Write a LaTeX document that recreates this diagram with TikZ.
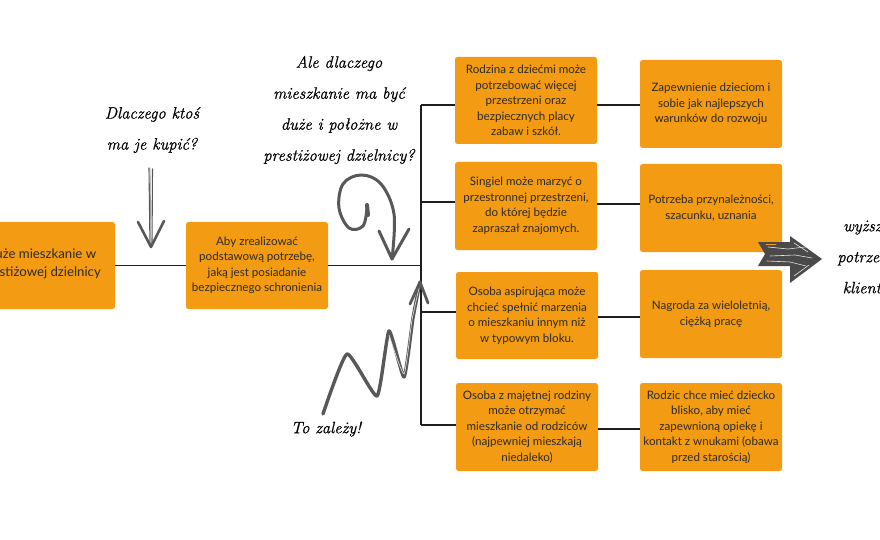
\documentclass[tikz,border=0pt]{standalone}
\usepackage{fontspec}
\setmainfont{Lato}
\newfontfamily\handfont{Latin Modern Roman}[ItalicFeatures={FakeBold=0.7}]
\usetikzlibrary{calc}
\definecolor{boxorange}{HTML}{F29B13}
\definecolor{txt}{HTML}{2E2A25}
\definecolor{ink}{HTML}{1E1E1E}
\definecolor{pencil}{HTML}{585858}
\definecolor{blockgray}{HTML}{4A4A4A}
\begin{document}
\begin{tikzpicture}[x=1pt,y=-1pt,
  box/.style={fill=boxorange, rounded corners=2.5pt, minimum width=142pt, minimum height=87pt,
    align=center, inner sep=0pt, text=txt, font=\fontsize{11.6}{15.5}\selectfont},
  boxtext/.style={align=center, inner sep=0pt, text=txt, font=\fontsize{13.2}{18}\selectfont},
  conn/.style={draw=ink, line width=1.8pt},
  hand/.style={font=\handfont\itshape\fontsize{16.5}{31}\selectfont, align=center, text=black, inner sep=0pt},
  pen/.style={draw=pencil, line width=2.6pt, line cap=round, line join=round},
  chalk/.style={draw=white!80!gray, line width=0.6pt, line cap=round}]
\useasboundingbox (0,0) rectangle (880,540);
\clip (0,0) rectangle (880,540);
\fill[white] (0,0) rectangle (880,540);

% boxes
\node[box] (b1) at (44,265.5) {};
\node[boxtext, anchor=east] (b1t) at (101,264) {Duże mieszkanie w\\prestiżowej dzielnicy};
\node[box] (b2) at (257,265.5) {Aby zrealizować\\podstawową potrzebę,\\jaką jest posiadanie\\bezpiecznego schronienia};
\node[box] (a1) at (526,100.5) {Rodzina z dziećmi może\\potrzebować więcej\\przestrzeni oraz\\bezpiecznych placy\\zabaw i szkół.};
\node[box, minimum height=88pt] (a2) at (711,104) {Zapewnienie dzieciom i\\sobie jak najlepszych\\warunków do rozwoju};
\node[box, minimum height=88pt] (c1b) at (526,206) {Singiel może marzyć o\\przestronnej przestrzeni,\\do której będzie\\zapraszał znajomych.};
\node[box, minimum height=88pt] (c2b) at (711,208) {Potrzeba przynależności,\\szacunku, uznania};
\node[box] (d1) at (527,315.5) {Osoba aspirująca może\\chcieć spełnić marzenia\\o mieszkaniu innym niż\\w typowym bloku.};
\node[box, minimum height=88pt] (d2) at (711,314) {Nagroda za wieloletnią,\\ciężką pracę};
\node[box, minimum height=88pt] (e1) at (527,427) {Osoba z majętnej rodziny\\może otrzymać\\mieszkanie od rodziców\\(najpewniej mieszkają\\niedaleko)};
\node[box, minimum height=88pt] (e2) at (711,427) {Rodzic chce mieć dziecko\\blisko, aby mieć\\zapewnioną opiekę i\\kontakt z wnukami (obawa\\przed starością)};

% trunk coordinates
\coordinate (ta) at (421,105);
\coordinate (tb) at (421,202);
\coordinate (tc) at (421,312);
\coordinate (td) at (421,425);
\coordinate (yb) at (0,204);
\coordinate (yc) at (0,317);
\coordinate (yd) at (0,429);

% connectors
\draw[conn] (b1.east) -- (b2.west);
\draw[conn] (b2.east) -- (b2.east -| ta);
\draw[conn] (ta) -- (td);
\draw[conn] (ta) -- (ta -| a1.west);
\draw[conn] (tb) -- (tb -| c1b.west);
\draw[conn] (tc) -- (tc -| d1.west);
\draw[conn] (td) -- (td -| e1.west);
\draw[conn] (a1.east |- ta) -- (a2.west |- ta);
\draw[conn] (c1b.east |- yb) -- (c2b.west |- yb);
\draw[conn] (d1.east |- yc) -- (d2.west |- yc);
\draw[conn] (e1.east |- yd) -- (e2.west |- yd);

% handwritten notes
\node[hand] (q1) at (152,130) {Dlaczego ktoś\\ma je kupić?};
\node[hand] (q2) at (339,110) {Ale dlaczego\\mieszkanie ma być\\duże i położne w\\prestiżowej dzielnicy?};
\node[hand] (q3) at (326,429) {To zależy!};
\node[hand] (q4) at (866,257) {wyższe\\potrzeby\\klienta};

% straight pencil arrow
\coordinate (p1s) at (150,168);
\coordinate (p1e) at (151,247);
\draw[pen, line width=1.1pt] (149,168) -- (150,246);
\draw[pen, line width=1.1pt] (152.5,169) -- (152,246);
\draw[pen, line width=0.8pt, draw=pencil!60] (p1s) -- (p1e);
\draw[pen, line width=2.6pt] (138,222) -- (p1e) -- (164,221);

% curly pencil arrow
\coordinate (p2e) at (392,259);
\draw[pen, line width=3pt] plot[smooth, tension=0.6] coordinates {(367,208) (363,226) (349,228) (339,208) (343,184) (361,175) (381,184) (394,214) (p2e)};
\draw[pen, line width=4pt] (367,205) -- (368,215);
\draw[pen, line width=3pt] (379,231) -- (p2e) -- (409,229);

% zigzag pencil arrow
\coordinate (p3e) at (420,282);
\draw[pen, line width=3.4pt] plot[smooth, tension=0.3] coordinates {(323,414) (347,354) (377,396) (389,331) (404,377) (413,318) (p3e)};
\draw[pen, line width=0.7pt, draw=white!70!gray] plot[smooth, tension=0.3] coordinates {(389,335) (404,374) (412,320) (419,288)};
\draw[pen, line width=2.8pt] (410,304) -- (p3e) -- (428,303);

% block arrow
\fill[blockgray] (758,242) -- (790,242) -- (790,236) -- (822,259) -- (790,283) -- (790,266) -- (758,266) -- (765,254) -- cycle;
\draw[chalk] (768,247) -- (788,249) -- (805,247);
\draw[chalk] (770,256) -- (795,255) -- (812,258);
\draw[chalk] (767,261) -- (790,262) -- (806,266);
\draw[chalk] (794,243) -- (808,252);
\draw[chalk] (794,276) -- (809,265);
\draw[chalk, draw=boxorange] (766,244) -- (776,244);
\end{tikzpicture}
\end{document}
